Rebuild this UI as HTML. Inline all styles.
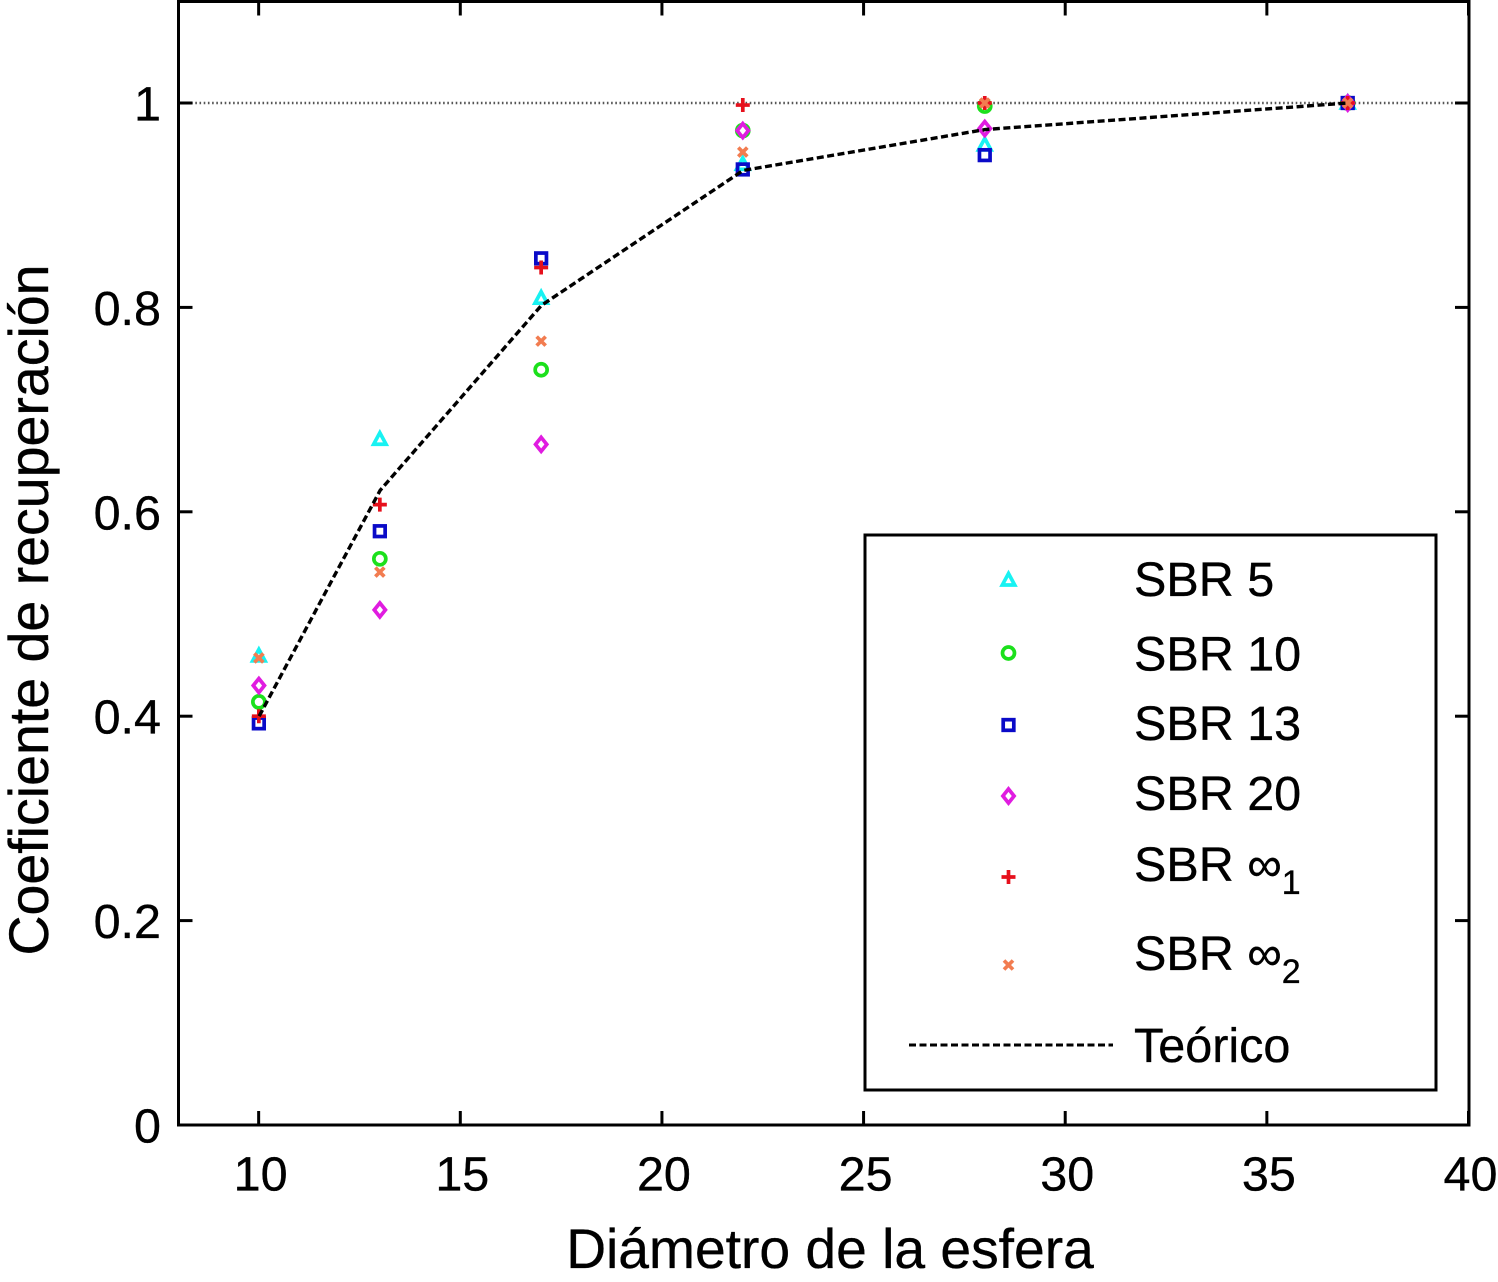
<!DOCTYPE html>
<html lang="es">
<head>
<meta charset="utf-8">
<title>Coeficiente de recuperación</title>
<style>
html,body{margin:0;padding:0;background:#fff;width:1498px;height:1282px;overflow:hidden}
svg{display:block}
text{font-family:"Liberation Sans",Arial,sans-serif;fill:#000;stroke:#000;stroke-width:0.35px}
</style>
</head>
<body>
<svg id="chart" xmlns="http://www.w3.org/2000/svg" width="1498" height="1282" viewBox="0 0 1498 1282">
  <rect x="0" y="0" width="1498" height="1282" fill="#fff"/>
  <g id="grid-layer"></g>
  <g id="marks-layer"></g>
  <g id="axes-layer"></g>
  <text x="830" y="1268" font-size="55.2" text-anchor="middle">Diámetro de la esfera</text>
  <text transform="translate(48,610) rotate(-90)" font-size="55.5" text-anchor="middle">Coeficiente de recuperación</text>
  <g>
    <rect x="865" y="535" width="571" height="555" fill="#fff" stroke="#000" stroke-width="3"/>
    <g id="legend-markers"></g>
    <text x="1134" y="596" font-size="48.5">SBR 5</text>
    <text x="1134" y="670.5" font-size="48.5">SBR 10</text>
    <text x="1134" y="740" font-size="48.5">SBR 13</text>
    <text x="1134" y="810" font-size="48.5">SBR 20</text>
    <text x="1134" y="881" font-size="48.5">SBR ∞<tspan font-size="34" dy="13">1</tspan></text>
    <text x="1134" y="970" font-size="48.5">SBR ∞<tspan font-size="34" dy="13">2</tspan></text>
    <line x1="909" y1="1045" x2="1113" y2="1045" stroke="#000" stroke-width="3" stroke-dasharray="7 3.5"/>
    <text x="1134" y="1062" font-size="48.5">Teórico</text>
  </g>
</svg>
<script>
const diameters = [10, 13, 17, 22, 28, 37];
const sbr5 = [0.459, 0.671, 0.809, 0.94, 0.959, 1];
const sbr10 = [0.414, 0.554, 0.739, 0.973, 0.997, 1];
const sbr13 = [0.393, 0.581, 0.848, 0.935, 0.949, 1];
const sbr20 = [0.43, 0.504, 0.666, 0.973, 0.975, 1];
const sbrInf1 = [0.4, 0.607, 0.839, 0.998, 1, 1];
const sbrInf2 = [0.457, 0.541, 0.767, 0.952, 1, 1];
const teorico = [0.4, 0.621, 0.802, 0.934, 0.974, 1];
const xTicks = [10, 15, 20, 25, 30, 35, 40];
const yTicks = [0, 0.2, 0.4, 0.6, 0.8, 1];
const xDomain = [8, 40];
const yDomain = [0, 1.1];

const NS = 'http://www.w3.org/2000/svg';
const plotLeft = 178.5, plotRight = 1469, plotBottom = 1125, unitY = 1022;
const xScale = v => plotLeft + (v - xDomain[0]) * (plotRight - plotLeft) / (xDomain[1] - xDomain[0]);
const yScale = v => plotBottom - v * unitY;
const plotTop = 1.5;

function make(tag, attrs, parent) {
  const el = document.createElementNS(NS, tag);
  for (const k in attrs) el.setAttribute(k, attrs[k]);
  parent.appendChild(el);
  return el;
}

const seriesList = [
  { key: 'sbr-5', values: sbr5, shape: 'triangle', color: '#18f2f2', legendY: 580 },
  { key: 'sbr-10', values: sbr10, shape: 'circle', color: '#1ce01c', legendY: 653 },
  { key: 'sbr-13', values: sbr13, shape: 'square', color: '#0a0ac8', legendY: 725 },
  { key: 'sbr-20', values: sbr20, shape: 'diamond', color: '#e01ce0', legendY: 796 },
  { key: 'sbr-inf-1', values: sbrInf1, shape: 'plus', color: '#e6101c', legendY: 877 },
  { key: 'sbr-inf-2', values: sbrInf2, shape: 'cross', color: '#f27c50', legendY: 965 }
];

function drawMarker(parent, shape, color, cx, cy) {
  const base = { fill: 'none', stroke: color, 'stroke-width': 3.7 };
  let el;
  if (shape === 'triangle') {
    el = make('polygon', Object.assign({ points: `${cx},${cy - 6.5} ${cx + 6.2},${cy + 5} ${cx - 6.2},${cy + 5}` }, base), parent);
  } else if (shape === 'circle') {
    el = make('circle', Object.assign({ cx: cx, cy: cy, r: 6 }, base), parent);
  } else if (shape === 'square') {
    el = make('rect', Object.assign({ x: cx - 5.3, y: cy - 5.3, width: 10.6, height: 10.6 }, base), parent);
  } else if (shape === 'diamond') {
    el = make('polygon', Object.assign({ points: `${cx},${cy - 7} ${cx + 5.6},${cy} ${cx},${cy + 7} ${cx - 5.6},${cy}` }, base), parent);
  } else if (shape === 'plus') {
    el = make('path', Object.assign({ d: `M${cx - 7} ${cy}H${cx + 7}M${cx} ${cy - 7}V${cy + 7}` }, base), parent);
  } else {
    el = make('path', Object.assign({ d: `M${cx - 4.5} ${cy - 4.5}L${cx + 4.5} ${cy + 4.5}M${cx + 4.5} ${cy - 4.5}L${cx - 4.5} ${cy + 4.5}` }, base), parent);
  }
  return el;
}

/* reference line at y = 1 */
const gridLayer = document.getElementById('grid-layer');
const refLine = make('line', { x1: plotLeft, y1: yScale(1), x2: plotRight, y2: yScale(1), stroke: '#555', 'stroke-width': 2.4, 'stroke-dasharray': '1.6 2.6' }, gridLayer);



/* series */
const marksLayer = document.getElementById('marks-layer');
seriesList.forEach(s => {
  const g = make('g', {}, marksLayer);
  
  
  s.values.forEach((v, i) => {
    const m = drawMarker(g, s.shape, s.color, xScale(diameters[i]) - 0.3, yScale(v));
    
    
  });
});

const theoryLine = make('polyline', {
  points: diameters.map((d, i) => xScale(d) + ',' + yScale(teorico[i])).join(' '),
  fill: 'none', stroke: '#000', 'stroke-width': 3.4, 'stroke-dasharray': '7 3.5'
}, marksLayer);



/* legend markers */
const legendMarkers = document.getElementById('legend-markers');
seriesList.forEach(s => {
  const m = drawMarker(legendMarkers, s.shape, s.color, 1008.5, s.legendY);
  
  
});

/* axes */
const axesLayer = document.getElementById('axes-layer');
const frame = make('rect', { x: plotLeft, y: plotTop, width: plotRight - plotLeft, height: plotBottom - plotTop, fill: 'none', stroke: '#000', 'stroke-width': 3 }, axesLayer);



const tickLen = 14;
xTicks.forEach(t => {
  const x = xScale(t) - 0.5;
  const tb = make('line', { x1: x, y1: plotBottom, x2: x, y2: plotBottom - tickLen, stroke: '#000', 'stroke-width': 3 }, axesLayer);
  
  
  const tt = make('line', { x1: x, y1: plotTop, x2: x, y2: plotTop + tickLen, stroke: '#000', 'stroke-width': 3 }, axesLayer);
  
  
  const label = make('text', { x: x + 2, y: 1190.5, 'font-size': 48.5, 'text-anchor': 'middle' }, axesLayer);
  
  
  label.textContent = String(t);
});
yTicks.forEach(t => {
  const y = yScale(t);
  const tl = make('line', { x1: plotLeft, y1: y, x2: plotLeft + tickLen, y2: y, stroke: '#000', 'stroke-width': 3 }, axesLayer);
  
  
  const tr = make('line', { x1: plotRight, y1: y, x2: plotRight - tickLen, y2: y, stroke: '#000', 'stroke-width': 3 }, axesLayer);
  
  
  const label = make('text', { x: 161, y: y + 17.5, 'font-size': 48.5, 'text-anchor': 'end' }, axesLayer);
  
  
  label.textContent = String(t);
});
</script>
</body>
</html>
